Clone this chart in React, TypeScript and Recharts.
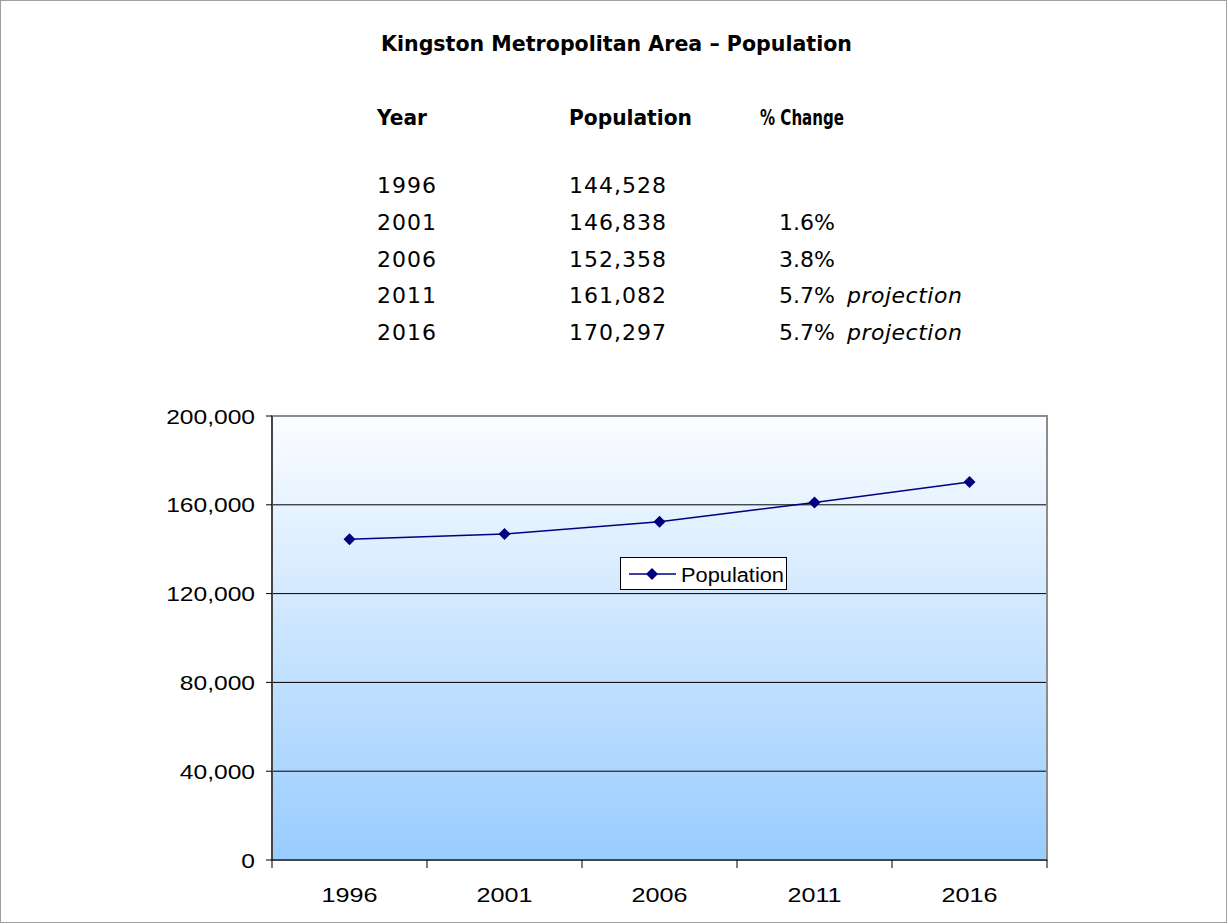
import React from 'react';
import { LineChart, Line, XAxis, YAxis, CartesianGrid, ReferenceArea, Legend } from 'recharts';

const years = ['1996', '2001', '2006', '2011', '2016'];
const population = [144528, 146838, 152358, 161082, 170297];
const pctChange = ['', '1.6%', '3.8%', '5.7%', '5.7%'];
const notes = ['', '', '', 'projection', 'projection'];
const yTicks = [0, 40000, 80000, 120000, 160000, 200000];
const seriesName = 'Population';
const title = 'Kingston Metropolitan Area \u2013 Population';
const headers = ['Year', 'Population', '% Change'];

const data = years.map((y, i) => ({ year: y, population: population[i], idx: i }));

const fmt = (v: number) => v.toLocaleString('en-US');
const NAVY = '#000080';
const TABLE_FONT = '"DejaVu Sans", Verdana, sans-serif';
const AXIS_FONT = '"Liberation Sans", Arial, sans-serif';
const STRETCH = 1.2;

const XTick = (props: any) => {
  const { x, y, payload, index, visibleTicksCount, width } = props;
  const n = visibleTicksCount || 5;
  const plotW = width || 775;
  const bw = plotW / n;
  const top = y - 17 - 8;
  const left = x - bw / 2;
  const right = x + bw / 2;
  return (
    <g>
      <line x1={left} x2={left} y1={top} y2={top + 8} stroke="#000" strokeWidth={1} />
      {index === n - 1 && (
        <line x1={right} x2={right} y1={top} y2={top + 8} stroke="#000" strokeWidth={1} />
      )}
      <g transform={`translate(${x},${top + 42}) scale(${STRETCH},1)`}>
        <text x={0} y={0} textAnchor="middle" fill="#000" fontSize={21} fontFamily={AXIS_FONT}>
          {payload.value}
        </text>
      </g>
    </g>
  );
};

const YTick = (props: any) => {
  const { x, y, payload } = props;
  return (
    <g transform={`translate(${x},${y + 7.5}) scale(${STRETCH},1)`}>
      <text x={0} y={0} textAnchor="end" fill="#000" fontSize={20.5} fontFamily={AXIS_FONT}>
        {fmt(payload.value)}
      </text>
    </g>
  );
};

const Diamond = (props: any) => {
  const { cx, cy, index } = props;
  if (cx == null || cy == null) return <g key={index} />;
  const s = 6;
  return (
    <path key={index} d={`M${cx},${cy - s} L${cx + s},${cy} L${cx},${cy + s} L${cx - s},${cy} Z`} fill={NAVY} />
  );
};

const LegendBox = () => (
  <svg width={168} height={34} style={{ display: 'block' }}>
    <rect x={0.5} y={0.5} width={166} height={32} fill="#fff" stroke="#000" strokeWidth={1} />
    <line x1={9} x2={56} y1={17} y2={17} stroke={NAVY} strokeWidth={1.5} />
    <path d="M32,11 L38,17 L32,23 L26,17 Z" fill={NAVY} />
    <text x={61} y={24.5} fontFamily={AXIS_FONT} fontSize={20} fill="#000" textLength={103} lengthAdjust="spacingAndGlyphs">
      {seriesName}
    </text>
  </svg>
);

export default function App() {
  const rowY = [193, 230, 267, 303, 340];
  const headerW = [50, 123, 84];
  const headerX = [377, 569, 760];
  const lastIdx = years.length - 1;
  return (
    <div style={{ position: 'absolute', left: 0, top: 0, width: 1228, height: 924, background: '#fff' }}>
      <LineChart
        width={1228}
        height={924}
        data={data}
        margin={{ top: 416, right: 181, left: 172, bottom: 14 }}
      >
        <defs>
          <linearGradient id="plotBg" x1="0" y1="0" x2="0" y2="1">
            <stop offset="0%" stopColor="#fbfdff" />
            <stop offset="100%" stopColor="#99ccff" />
          </linearGradient>
        </defs>
        <CartesianGrid vertical={false} stroke="#000" strokeOpacity={1} fill="url(#plotBg)" fillOpacity={1} />
        <XAxis
          dataKey="year"
          height={50}
          padding={{ left: 77.5, right: 77.5 }}
          axisLine={{ stroke: '#000' }}
          tickLine={false}
          tickSize={8}
          tickMargin={17}
          tick={<XTick />}
          interval={0}
        />
        <XAxis
          xAxisId="frame"
          dataKey="idx"
          type="number"
          domain={[0, lastIdx]}
          hide
          allowDataOverflow
        />
        <YAxis
          width={100}
          domain={[0, 200000]}
          ticks={yTicks}
          axisLine={{ stroke: '#000' }}
          tickLine={{ stroke: '#000' }}
          tickSize={6}
          tickMargin={11}
          tick={<YTick />}
          interval={0}
        />
        <ReferenceArea
          xAxisId="frame"
          x1={0}
          x2={lastIdx}
          y1={0}
          y2={200000}
          fill="none"
          stroke="#8c8c8c"
          strokeWidth={2}
          ifOverflow="visible"
        />
        <Legend
          layout="horizontal"
          verticalAlign="middle"
          align="center"
          wrapperStyle={{ left: 620, top: 557, width: 'auto' }}
          content={() => <LegendBox />}
        />
        <Line
          type="linear"
          dataKey="population"
          name={seriesName}
          stroke={NAVY}
          strokeWidth={1.5}
          dot={<Diamond />}
          activeDot={false}
          isAnimationActive={false}
        />
      </LineChart>
      <svg
        width={1228}
        height={924}
        style={{ position: 'absolute', left: 0, top: 0, pointerEvents: 'none' }}
      >
        <rect x={0.5} y={0.5} width={1226} height={922} fill="none" stroke="#a0a0a0" strokeWidth={1} />
        <text
          x={381}
          y={51}
          fontFamily={TABLE_FONT}
          fontWeight="bold"
          fontSize={22}
          fill="#000"
          textLength={471}
          lengthAdjust="spacingAndGlyphs"
        >
          {title}
        </text>
        {headers.map((h, i) => (
          <text
            key={h}
            x={headerX[i]}
            y={125}
            fontFamily={TABLE_FONT}
            fontWeight="bold"
            fontSize={21}
            fill="#000"
            textLength={headerW[i]}
            lengthAdjust="spacingAndGlyphs"
          >
            {h}
          </text>
        ))}
        {years.map((yr, i) => (
          <g key={yr}>
            <text x={377} y={rowY[i]} fontFamily={TABLE_FONT} fontSize={22} letterSpacing={1} fill="#000">{yr}</text>
            <text x={569} y={rowY[i]} fontFamily={TABLE_FONT} fontSize={22} letterSpacing={1} fill="#000">{fmt(population[i])}</text>
            <text x={779} y={rowY[i]} fontFamily={TABLE_FONT} fontSize={22} fill="#000">{pctChange[i]}</text>
            <text x={847} y={rowY[i]} fontFamily={TABLE_FONT} fontStyle="italic" fontSize={22} letterSpacing={0.5} fill="#000">{notes[i]}</text>
          </g>
        ))}
      </svg>
    </div>
  );
}
